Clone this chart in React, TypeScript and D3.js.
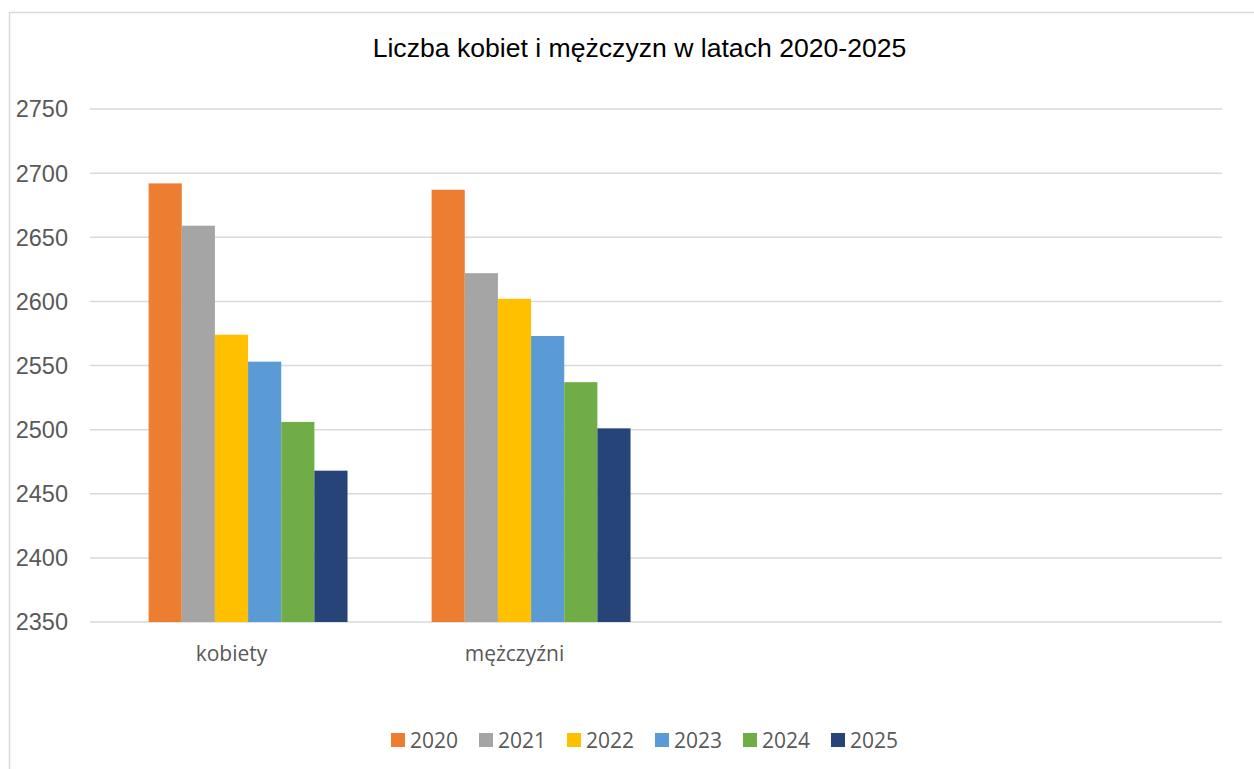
import React from 'react'
import * as d3 from 'd3'

const W = 1254
const H = 769

const title = 'Liczba kobiet i mężczyzn w latach 2020-2025'
const categories = ['kobiety', 'mężczyźni', ' ', '  ']
const years = ['2020', '2021', '2022', '2023', '2024', '2025']
const kobiety = [2692, 2659, 2574, 2553, 2506, 2468]
const mezczyzni = [2687, 2622, 2602, 2573, 2537, 2501]
const yTicks = [2350, 2400, 2450, 2500, 2550, 2600, 2650, 2700, 2750]
const colors = ['#ED7D31', '#A5A5A5', '#FFC000', '#5B9BD5', '#70AD47', '#264478']

const seriesByCategory: Record<string, number[]> = {
  kobiety: kobiety,
  'mężczyźni': mezczyzni
}

const M = { left: 90, right: 1222, top: 109, bottom: 622 }

const App = () => {
  const y = d3.scaleLinear().domain([2350, 2750]).range([M.bottom, M.top])

  const x = d3
    .scaleBand()
    .domain(categories)
    .range([M.left, M.right])
    .paddingInner(0.18)
    .paddingOuter(0.09)

  // the group leaves room for one empty slot before the first year
  const bw = x.bandwidth()
  const xs = d3
    .scaleBand()
    .domain(years)
    .range([bw / 7, bw])

  const gridColor = '#d9d9d9'
  const textColor = '#595959'

  const legendStep = 88
  const legendX0 = 391

  return (
    <div style={{ position: 'absolute', left: 0, top: 0 }}>
      <svg width={W} height={H} style={{ display: 'block', background: '#fff' }}>
        <rect x={9.5} y={12.5} width={W + 20} height={H + 20} fill="#fff" stroke={gridColor} strokeWidth={1.5} />

        <text
          x={639.5}
          y={57}
          textAnchor="middle"
          fontFamily="'Liberation Sans', Arial, sans-serif"
          fontSize={26.6}
          fill="#000"
        >
          {title}
        </text>

        {yTicks.map(t => (
          <g key={t}>
            <line x1={M.left} x2={M.right} y1={y(t)} y2={y(t)} stroke={gridColor} strokeWidth={1.5} />
            <text
              x={68}
              y={y(t)}
              dy="0.36em"
              textAnchor="end"
              fontFamily="'Liberation Sans', Arial, sans-serif"
              fontSize={23.5}
              fill={textColor}
            >
              {t}
            </text>
          </g>
        ))}

        {categories
          .filter(c => seriesByCategory[c])
          .map(c => (
            <g key={c} transform={`translate(${x(c)},0)`}>
              {seriesByCategory[c].map((v, i) => (
                <rect
                  key={years[i]}
                  x={xs(years[i])}
                  y={y(v)}
                  width={xs.bandwidth()}
                  height={y(2350) - y(v)}
                  fill={colors[i]}
                />
              ))}
            </g>
          ))}

        {categories.map(c => (
          <text
            key={c}
            x={(x(c) as number) + bw / 2}
            y={661}
            textAnchor="middle"
            fontFamily="'Open Sans', sans-serif"
            fontSize={21}
            fill={textColor}
          >
            {c.trim()}
          </text>
        ))}

        {years.map((yr, i) => (
          <g key={yr} transform={`translate(${legendX0 + i * legendStep},733)`}>
            <rect x={0} y={0} width={14} height={14} fill={colors[i]} />
            <text
              x={19}
              y={7}
              dy="0.36em"
              fontFamily="'Open Sans', sans-serif"
              fontSize={21}
              fill={textColor}
            >
              {yr}
            </text>
          </g>
        ))}
      </svg>
    </div>
  )
}

export default App
